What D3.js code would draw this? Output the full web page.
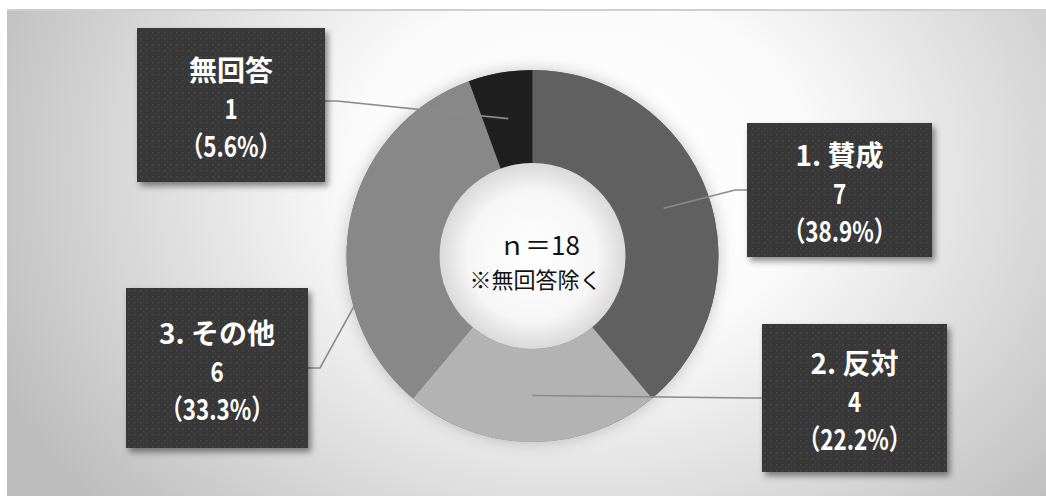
<!DOCTYPE html>
<html><head><meta charset="utf-8">
<script src="https://cdn.jsdelivr.net/npm/d3@7"></script>
<style>html,body{margin:0;padding:0;background:#fff;}svg{display:block;}</style>
</head><body>
<svg id="chart" width="1046" height="496"></svg>
<script>
// ---- data ----
const categories = ["1. 賛成", "2. 反対", "3. その他", "無回答"];
const counts = [7, 4, 6, 1];
const percents = ["38.9", "22.2", "33.3", "5.6"];
const sliceColors = ["#606060", "#b3b3b3", "#888888", "#1f1f1f"];
const centerLines = ["ｎ＝18", "※無回答除く"];

// ---- layout ----
const W = 1046, H = 496;
const cx = 532.5, cy = 256, rOut = 186, rIn = 93;
const boxes = [
  {x: 747, y: 123, w: 185, h: 134, side: "left"},
  {x: 762, y: 324, w: 185, h: 148, side: "left"},
  {x: 126, y: 288, w: 182, h: 160, side: "right"},
  {x: 137, y: 28, w: 188, h: 154, side: "right"}
];
const elbowY = [190, 398, 368, 101];

const svg = d3.select("#chart");
const defs = svg.append("defs");

const bg = defs.append("radialGradient").attr("id", "bg")
  .attr("gradientUnits", "userSpaceOnUse")
  .attr("cx", 580).attr("cy", 170).attr("r", 640)
  .attr("gradientTransform", "translate(580,170) scale(1,0.8) translate(-580,-170)");
bg.append("stop").attr("offset", "0%").attr("stop-color", "#ffffff");
bg.append("stop").attr("offset", "35%").attr("stop-color", "#fbfbfb");
bg.append("stop").attr("offset", "100%").attr("stop-color", "#bdbdbd");

const hole = defs.append("radialGradient").attr("id", "hole");
hole.append("stop").attr("offset", "0%").attr("stop-color", "#ffffff");
hole.append("stop").attr("offset", "70%").attr("stop-color", "#f6f6f6");
hole.append("stop").attr("offset", "100%").attr("stop-color", "#d9d9d9");

const pat = defs.append("pattern").attr("id", "dots")
  .attr("patternUnits", "userSpaceOnUse").attr("width", 6).attr("height", 6);
pat.append("rect").attr("width", 6).attr("height", 6).attr("fill", "#383838");
pat.append("rect").attr("x", 2).attr("y", 2).attr("width", 1.5).attr("height", 1.5).attr("fill", "#4c4c4c");
pat.append("rect").attr("x", 5).attr("y", 5).attr("width", 1).attr("height", 1).attr("fill", "#414141");

const sh = defs.append("filter").attr("id", "boxshadow")
  .attr("x", "-10%").attr("y", "-10%").attr("width", "130%").attr("height", "130%");
sh.append("feDropShadow").attr("dx", 3).attr("dy", 4).attr("stdDeviation", 3)
  .attr("flood-color", "#000").attr("flood-opacity", 0.45);

const glow = defs.append("filter").attr("id", "glow")
  .attr("x", "-20%").attr("y", "-20%").attr("width", "140%").attr("height", "140%");
glow.append("feDropShadow").attr("dx", 0).attr("dy", 0).attr("stdDeviation", 8)
  .attr("flood-color", "#000").attr("flood-opacity", 0.22);

// background panel
svg.append("rect").attr("x", 7).attr("y", 10).attr("width", W - 7).attr("height", H - 10)
  .attr("fill", "url(#bg)");
svg.append("line").attr("x1", 7).attr("x2", W).attr("y1", 10).attr("y2", 10)
  .attr("stroke", "#cfcfcf").attr("stroke-width", 2);

// donut
const pie = d3.pie().sort(null).value(d => d)(counts);
const arc = d3.arc().innerRadius(rIn).outerRadius(rOut);
const g = svg.append("g").attr("transform", `translate(${cx},${cy})`);
g.append("circle").attr("r", rOut).attr("fill", "#777").attr("filter", "url(#glow)");
g.selectAll("path.slice").data(pie).join("path").attr("class", "slice")
  .attr("d", arc).attr("fill", (d, i) => sliceColors[i]);
g.append("circle").attr("r", rIn).attr("fill", "url(#hole)");

// center text
const ct = svg.append("g").attr("font-family", "'Noto Sans CJK JP', sans-serif").attr("fill", "#111")
  .attr("text-anchor", "middle");
ct.append("text").attr("x", cx + 7).attr("y", 243).attr("dominant-baseline", "central")
  .attr("font-size", 26).text(centerLines[0]);
ct.append("text").attr("x", cx + 3).attr("y", 278).attr("dominant-baseline", "central")
  .attr("font-size", 22).text(centerLines[1]);

// leader lines
pie.forEach((d, i) => {
  const [px, py] = arc.centroid(d);
  const b = boxes[i];
  const ex = b.side === "left" ? b.x : b.x + b.w;
  const kx = b.side === "left" ? ex - 12 : ex + 12;
  const pts = [[cx + px, cy + py], [kx, elbowY[i]], [ex, elbowY[i]]];
  svg.append("path").attr("d", d3.line()(pts)).attr("fill", "none")
    .attr("stroke", "#8a8a8a").attr("stroke-width", 1.6);
});

// label boxes
const lab = svg.append("g");
pie.forEach((d, i) => {
  const b = boxes[i];
  lab.append("rect").attr("x", b.x).attr("y", b.y).attr("width", b.w).attr("height", b.h)
    .attr("fill", "url(#dots)").attr("filter", "url(#boxshadow)");
  const mx = b.x + b.w / 2, my = b.y + b.h / 2;
  const lines = [categories[i], String(counts[i]), "（" + percents[i] + "%）"];
  const sx = [1, 0.8, 0.8];
  lines.forEach((s, k) => {
    const y = my + (k - 1) * 38 + 2;
    lab.append("text").attr("transform", `translate(${mx},${y}) scale(${sx[k]},1)`)
      .attr("text-anchor", "middle").attr("dominant-baseline", "central")
      .attr("fill", "#fff").attr("font-family", "'Noto Sans CJK JP', sans-serif")
      .attr("font-weight", "bold").attr("font-size", 28).text(s);
  });
});
</script>
</body></html>
